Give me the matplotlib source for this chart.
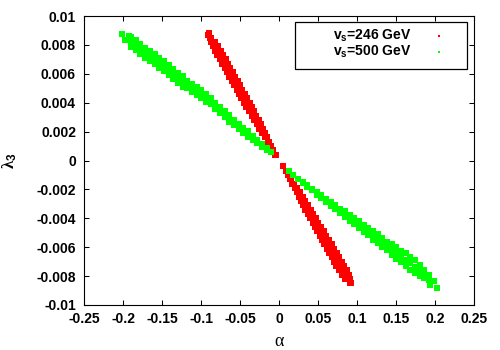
import matplotlib
matplotlib.use("Agg")
import matplotlib.pyplot as plt
from matplotlib.patches import Rectangle

# ---------------- data ----------------
series_labels = ["v$_\\mathbf{s}$=246 GeV", "v$_\\mathbf{s}$=500 GeV"]

x_ticks = [-0.25, -0.2, -0.15, -0.1, -0.05, 0, 0.05, 0.1, 0.15, 0.2, 0.25]
x_tick_labels = ["-0.25", "-0.2", "-0.15", "-0.1", "-0.05", "0",
                 "0.05", "0.1", "0.15", "0.2", "0.25"]
y_ticks = [-0.01, -0.008, -0.006, -0.004, -0.002, 0,
           0.002, 0.004, 0.006, 0.008, 0.01]
y_tick_labels = ["-0.01", "-0.008", "-0.006", "-0.004", "-0.002", "0",
                 "0.002", "0.004", "0.006", "0.008", "0.01"]

# v_s = 246 GeV (red)
red_alpha = [
    -0.0915, -0.0895,
    -0.0889, -0.0880, -0.0871,
    -0.0874, -0.0850, -0.0826,
    -0.0856, -0.0819, -0.0782,
    -0.0825, -0.0788, -0.0751,
    -0.0794, -0.0757, -0.0720,
    -0.0763, -0.0726, -0.0689,
    -0.0732, -0.0695, -0.0658,
    -0.0701, -0.0664, -0.0627,
    -0.0671, -0.0634, -0.0597,
    -0.0640, -0.0603, -0.0566,
    -0.0609, -0.0572, -0.0535,
    -0.0578, -0.0541, -0.0504,
    -0.0547, -0.0510, -0.0473,
    -0.0516, -0.0479, -0.0442,
    -0.0485, -0.0448, -0.0411,
    -0.0454, -0.0417, -0.0380,
    -0.0421, -0.0387, -0.0353,
    -0.0389, -0.0356, -0.0323,
    -0.0356, -0.0325, -0.0294,
    -0.0324, -0.0294, -0.0264,
    -0.0292, -0.0263, -0.0234,
    -0.0259, -0.0232, -0.0205,
    -0.0222, -0.0201, -0.0180,
    -0.0186, -0.0171, -0.0156,
    -0.0149, -0.0140, -0.0131,
    -0.0112, -0.0109, -0.0106,
    -0.0080, -0.0078, -0.0076,
    -0.0049, -0.0047, -0.0045,
    0.0049, 0.0051, 0.0053,
    0.0081, 0.0083, 0.0085,
    0.0112, 0.0115, 0.0118,
    0.0142, 0.0146, 0.0150,
    0.0169, 0.0178, 0.0187,
    0.0196, 0.0210, 0.0224,
    0.0223, 0.0242, 0.0261,
    0.0250, 0.0274, 0.0298,
    0.0278, 0.0305, 0.0332,
    0.0307, 0.0337, 0.0367,
    0.0335, 0.0369, 0.0403,
    0.0367, 0.0401, 0.0435,
    0.0399, 0.0433, 0.0467,
    0.0430, 0.0464, 0.0498,
    0.0457, 0.0496, 0.0535,
    0.0489, 0.0528, 0.0567,
    0.0521, 0.0560, 0.0599,
    0.0553, 0.0592, 0.0631,
    0.0574, 0.0623, 0.0672,
    0.0606, 0.0655, 0.0704,
    0.0638, 0.0687, 0.0736,
    0.0670, 0.0719, 0.0768,
    0.0702, 0.0751, 0.0800,
    0.0733, 0.0782, 0.0831,
    0.0765, 0.0814, 0.0863,
    0.0801, 0.0846, 0.0891,
    0.0844, 0.0878, 0.0912,
    0.0901, 0.0910, 0.0919,
]
red_lambda = [
    0.0087, 0.0088,
    0.0085, 0.0085, 0.0085,
    0.0082, 0.0082, 0.0082,
    0.0079, 0.0079, 0.0079,
    0.0076, 0.0076, 0.0076,
    0.0073, 0.0073, 0.0073,
    0.0070, 0.0070, 0.0070,
    0.0067, 0.0067, 0.0067,
    0.0064, 0.0064, 0.0064,
    0.0061, 0.0061, 0.0061,
    0.0058, 0.0058, 0.0058,
    0.0055, 0.0055, 0.0055,
    0.0052, 0.0052, 0.0052,
    0.0049, 0.0049, 0.0049,
    0.0046, 0.0046, 0.0046,
    0.0043, 0.0043, 0.0043,
    0.0040, 0.0040, 0.0040,
    0.0037, 0.0037, 0.0037,
    0.0034, 0.0034, 0.0034,
    0.0031, 0.0031, 0.0031,
    0.0028, 0.0028, 0.0028,
    0.0025, 0.0025, 0.0025,
    0.0022, 0.0022, 0.0022,
    0.0019, 0.0019, 0.0019,
    0.0016, 0.0016, 0.0016,
    0.0013, 0.0013, 0.0013,
    0.0010, 0.0010, 0.0010,
    0.0007, 0.0007, 0.0007,
    0.0004, 0.0004, 0.0004,
    -0.0004, -0.0004, -0.0004,
    -0.0007, -0.0007, -0.0007,
    -0.0010, -0.0010, -0.0010,
    -0.0013, -0.0013, -0.0013,
    -0.0016, -0.0016, -0.0016,
    -0.0019, -0.0019, -0.0019,
    -0.0022, -0.0022, -0.0022,
    -0.0025, -0.0025, -0.0025,
    -0.0028, -0.0028, -0.0028,
    -0.0031, -0.0031, -0.0031,
    -0.0034, -0.0034, -0.0034,
    -0.0037, -0.0037, -0.0037,
    -0.0040, -0.0040, -0.0040,
    -0.0043, -0.0043, -0.0043,
    -0.0046, -0.0046, -0.0046,
    -0.0049, -0.0049, -0.0049,
    -0.0052, -0.0052, -0.0052,
    -0.0055, -0.0055, -0.0055,
    -0.0058, -0.0058, -0.0058,
    -0.0061, -0.0061, -0.0061,
    -0.0064, -0.0064, -0.0064,
    -0.0067, -0.0067, -0.0067,
    -0.0070, -0.0070, -0.0070,
    -0.0073, -0.0073, -0.0073,
    -0.0076, -0.0076, -0.0076,
    -0.0079, -0.0079, -0.0079,
    -0.0082, -0.0082, -0.0082,
    -0.0085, -0.0085, -0.0085,
]

# v_s = 500 GeV (green)
green_alpha = [
    -0.2020, -0.1975, -0.1932,
    -0.190, -0.190, -0.190,
    -0.184, -0.184, -0.184,
    -0.178, -0.178, -0.178,
    -0.172, -0.172, -0.172,
    -0.166, -0.166, -0.166,
    -0.160, -0.160, -0.160,
    -0.154, -0.154, -0.154,
    -0.148, -0.148, -0.148,
    -0.142, -0.142, -0.142,
    -0.136, -0.136, -0.136,
    -0.130, -0.130, -0.130,
    -0.124, -0.124, -0.124,
    -0.118, -0.118, -0.118,
    -0.112, -0.112, -0.112,
    -0.106, -0.106, -0.106,
    -0.100, -0.100, -0.100,
    -0.094, -0.094, -0.094,
    -0.088, -0.088, -0.088,
    -0.082, -0.082, -0.082,
    -0.076, -0.076, -0.076,
    -0.070, -0.070, -0.070,
    -0.064, -0.064, -0.064,
    -0.058, -0.058, -0.058,
    -0.052, -0.052, -0.052,
    -0.046, -0.046, -0.046,
    -0.040, -0.040, -0.040,
    -0.034, -0.034, -0.034,
    -0.028, -0.028, -0.028,
    -0.022, -0.022, -0.022,
    -0.016, -0.016, -0.016,
    -0.011,
    0.012, 0.018, 0.024,
    0.030, 0.030, 0.030,
    0.036, 0.036, 0.036,
    0.042, 0.042, 0.042,
    0.048, 0.048, 0.048,
    0.054, 0.054, 0.054,
    0.060, 0.060, 0.060,
    0.066, 0.066, 0.066,
    0.072, 0.072, 0.072,
    0.078, 0.078, 0.078,
    0.084, 0.084, 0.084,
    0.090, 0.090, 0.090,
    0.096, 0.096, 0.096,
    0.102, 0.102, 0.102,
    0.108, 0.108, 0.108,
    0.114, 0.114, 0.114,
    0.120, 0.120, 0.120,
    0.126, 0.126, 0.126,
    0.132, 0.132, 0.132,
    0.138, 0.138, 0.138,
    0.144, 0.144, 0.144,
    0.150, 0.150, 0.150,
    0.156, 0.156, 0.156,
    0.162, 0.162, 0.162,
    0.168, 0.168, 0.168,
    0.174, 0.174, 0.174,
    0.180, 0.180, 0.180,
    0.186, 0.186, 0.186,
    0.192, 0.192, 0.192,
    0.198, 0.1938, 0.2024,
]
green_lambda = [
    0.00878, 0.00836, 0.00860,
    0.00788, 0.00823, 0.00858,
    0.00762, 0.00797, 0.00832,
    0.00736, 0.00771, 0.00806,
    0.00710, 0.00745, 0.00780,
    0.00689, 0.00724, 0.00759,
    0.00668, 0.00703, 0.00738,
    0.00642, 0.00677, 0.00712,
    0.00616, 0.00651, 0.00686,
    0.00590, 0.00625, 0.00660,
    0.00564, 0.00599, 0.00634,
    0.00538, 0.00573, 0.00608,
    0.00512, 0.00547, 0.00582,
    0.00499, 0.00526, 0.00553,
    0.00476, 0.00503, 0.00530,
    0.00452, 0.00479, 0.00506,
    0.00431, 0.00458, 0.00485,
    0.00405, 0.00432, 0.00459,
    0.00388, 0.00410, 0.00432,
    0.00355, 0.00377, 0.00399,
    0.00327, 0.00349, 0.00371,
    0.00298, 0.00320, 0.00342,
    0.00269, 0.00291, 0.00313,
    0.00245, 0.00263, 0.00281,
    0.00217, 0.00235, 0.00253,
    0.00191, 0.00209, 0.00227,
    0.00165, 0.00183, 0.00201,
    0.00142, 0.00157, 0.00172,
    0.00119, 0.00131, 0.00143,
    0.00096, 0.00105, 0.00114,
    0.00074, 0.00079, 0.00084,
    0.00058,
    -0.00070, -0.00098, -0.00125,
    -0.00159, -0.00154, -0.00149,
    -0.00183, -0.00178, -0.00173,
    -0.00207, -0.00202, -0.00197,
    -0.00237, -0.00227, -0.00217,
    -0.00261, -0.00251, -0.00241,
    -0.00285, -0.00275, -0.00265,
    -0.00314, -0.00299, -0.00284,
    -0.00339, -0.00324, -0.00309,
    -0.00363, -0.00348, -0.00333,
    -0.00392, -0.00372, -0.00352,
    -0.00417, -0.00397, -0.00377,
    -0.00441, -0.00421, -0.00401,
    -0.00470, -0.00445, -0.00420,
    -0.00494, -0.00469, -0.00444,
    -0.00519, -0.00494, -0.00469,
    -0.00548, -0.00518, -0.00488,
    -0.00572, -0.00542, -0.00512,
    -0.00596, -0.00566, -0.00536,
    -0.00621, -0.00591, -0.00561,
    -0.00655, -0.00615, -0.00575,
    -0.00679, -0.00639, -0.00599,
    -0.00703, -0.00663, -0.00623,
    -0.00733, -0.00688, -0.00643,
    -0.00757, -0.00712, -0.00667,
    -0.00781, -0.00736, -0.00691,
    -0.00801, -0.00761, -0.00721,
    -0.00815, -0.00785, -0.00755,
    -0.00824, -0.00809, -0.00794,
    -0.00833, -0.00862, -0.00880,
]

# ---------------- style ----------------
plt.rcParams['font.family'] = ['Liberation Sans', 'DejaVu Sans']
plt.rcParams['font.weight'] = 'bold'
plt.rcParams['axes.unicode_minus'] = False
plt.rcParams['mathtext.fontset'] = 'custom'
plt.rcParams['mathtext.rm'] = 'Liberation Sans'
plt.rcParams['mathtext.it'] = 'Liberation Serif'
plt.rcParams['mathtext.bf'] = 'Liberation Sans:bold'

RED = (1.0, 0.0, 0.0)
GREEN = (0.0, 1.0, 0.0)

fig = plt.figure(figsize=(5, 3.5), dpi=100)
ax = fig.add_axes([84.3 / 500, 1 - 305 / 350, 390 / 500, 289 / 350])

ax.plot(red_alpha, red_lambda, ls='none', marker='s', ms=4.5, mew=0, color=RED)
ax.plot(green_alpha, green_lambda, ls='none', marker='s', ms=4.5, mew=0, color=GREEN)

ax.set_xlim(-0.25, 0.25)
ax.set_ylim(-0.01, 0.01)
ax.set_xticks(x_ticks)
ax.set_xticklabels(x_tick_labels, fontweight='bold')
ax.set_yticks(y_ticks)
ax.set_yticklabels(y_tick_labels, fontweight='bold')
ax.tick_params(direction='in', length=3.3, width=0.75, top=True, right=True,
               labelsize=10)
ax.tick_params(axis='x', pad=5)
ax.tick_params(axis='y', pad=6)
for s in ax.spines.values():
    s.set_linewidth(0.8)

fig.text(279.5 / 500, 1 - 341 / 350, "α", family='Liberation Serif',
         fontweight='normal', fontsize=13, ha='center', va='center')
fig.text(10 / 500, 1 - 161 / 350, r"$\lambda_3$", fontsize=12,
         rotation=90, ha='center', va='center')

# legend (gnuplot style: label right-justified, sample to the right)
ax.add_patch(Rectangle((0.540, 0.816), 0.440, 0.164, transform=ax.transAxes,
                       fill=False, edgecolor='black', linewidth=0.9, zorder=5))
for i, (lab, col) in enumerate(zip(series_labels, [RED, GREEN])):
    yy = 0.9308 - i * 0.0543
    ax.text(0.8395, yy, lab, transform=ax.transAxes, ha='right', va='center',
            fontsize=10, fontweight='bold', zorder=6)
    ax.plot([0.910], [yy], transform=ax.transAxes, ls='none', marker='s',
            ms=1.8, mew=0, color=col, zorder=6, clip_on=False)

fig.savefig("out.png", dpi=100)
